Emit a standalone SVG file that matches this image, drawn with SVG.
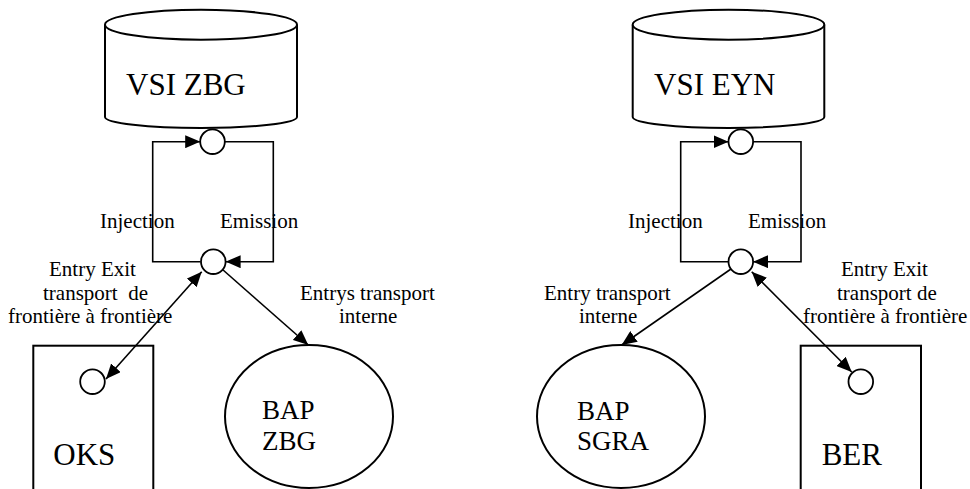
<svg xmlns="http://www.w3.org/2000/svg" width="970" height="489" viewBox="0 0 970 489">
<style>
.shape{fill:#fff;stroke:#000;stroke-width:2}
.port{fill:#fff;stroke:#000;stroke-width:1.8}
.conn{fill:none;stroke:#000;stroke-width:1.6}
text{font-family:"Liberation Serif","Times New Roman",serif;fill:#000}
.lbl{font-size:21px}
.big{font-size:31px}
.mid{font-size:27px}
</style>
<defs>
<marker id="ah" viewBox="0 0 15 13" refX="15" refY="6.5" markerUnits="userSpaceOnUse" markerWidth="15" markerHeight="13" orient="auto-start-reverse">
<path d="M0,0 L15,6.5 L0,13 z" fill="#000"/>
</marker>
</defs>
<rect width="970" height="489" fill="#fff"/>

<g id="vsi-zbg">
<path class="shape" d="M105,24.7 L105,117 A96,11 0 0 0 297,117 L297,24.7"/>
<ellipse class="shape" cx="201" cy="24.7" rx="96" ry="15"/>
<text class="big" x="126" y="95">VSI ZBG</text>
</g>
<g id="vsi-eyn">
<path class="shape" d="M632.7,24.7 L632.7,117 A95.8,11 0 0 0 824.3,117 L824.3,24.7"/>
<ellipse class="shape" cx="728.5" cy="24.7" rx="95.8" ry="15"/>
<text class="big" x="654" y="95">VSI EYN</text>
</g>

<g id="oks">
<rect class="shape" x="33.3" y="345.7" width="120" height="160"/>
<circle class="port" cx="92.5" cy="381.7" r="12.3"/>
<text class="big" x="53.3" y="465">OKS</text>
</g>
<g id="ber">
<rect class="shape" x="800.7" y="345.7" width="120.3" height="160"/>
<circle class="port" cx="860.8" cy="381.7" r="12.3"/>
<text class="big" x="821.7" y="465">BER</text>
</g>

<g id="bap-zbg">
<ellipse class="shape" cx="309" cy="416.5" rx="84" ry="71.5"/>
<text class="mid" x="262" y="419">BAP</text>
<text class="mid" x="262" y="450">ZBG</text>
</g>
<g id="bap-sgra">
<ellipse class="shape" cx="621" cy="416.5" rx="84" ry="71.5"/>
<text class="mid" x="577" y="420">BAP</text>
<text class="mid" x="577" y="450">SGRA</text>
</g>

<g id="connectors">
<path class="conn" d="M200.5,261.7 L152.7,261.7 L152.7,141.7 L200.2,141.7" marker-end="url(#ah)"/>
<path class="conn" d="M224.8,141.7 L273.3,141.7 L273.3,261.7 L225.6,261.7" marker-end="url(#ah)"/>
<path class="conn" d="M106,379 L201.7,271.7" marker-start="url(#ah)" marker-end="url(#ah)"/>
<path class="conn" d="M222.5,269.5 L308.3,345" marker-end="url(#ah)"/>

<path class="conn" d="M728.5,261.7 L680.7,261.7 L680.7,141.7 L728.5,141.7" marker-end="url(#ah)"/>
<path class="conn" d="M753.1,141.7 L801,141.7 L801,261.7 L753.1,261.7" marker-end="url(#ah)"/>
<path class="conn" d="M731,269 L621.7,345" marker-end="url(#ah)"/>
<path class="conn" d="M751.7,271.7 L851.7,372" marker-start="url(#ah)" marker-end="url(#ah)"/>
</g>
<g id="zbg-ports">
<circle class="port" cx="212.5" cy="141.7" r="12.3"/>
<circle class="port" cx="213.3" cy="261.7" r="12.3"/>
</g>
<g id="eyn-ports">
<circle class="port" cx="740.8" cy="141.7" r="12.3"/>
<circle class="port" cx="740.8" cy="261.7" r="12.3"/>
</g>

<g id="labels">
<text class="lbl" x="100" y="228">Injection</text>
<text class="lbl" x="220" y="228">Emission</text>
<text class="lbl" x="628" y="228">Injection</text>
<text class="lbl" x="748" y="228">Emission</text>
<text class="lbl" x="49" y="276">Entry Exit</text>
<text class="lbl" x="43" y="300" xml:space="preserve">transport  de</text>
<text class="lbl" x="8" y="323">frontière à frontière</text>
<text class="lbl" x="300" y="300">Entrys transport</text>
<text class="lbl" x="339" y="323">interne</text>
<text class="lbl" x="544" y="300">Entry transport</text>
<text class="lbl" x="579" y="323">interne</text>
<text class="lbl" x="841" y="276">Entry Exit</text>
<text class="lbl" x="837" y="300">transport de</text>
<text class="lbl" x="803" y="323">frontière à frontière</text>
</g>
</svg>
